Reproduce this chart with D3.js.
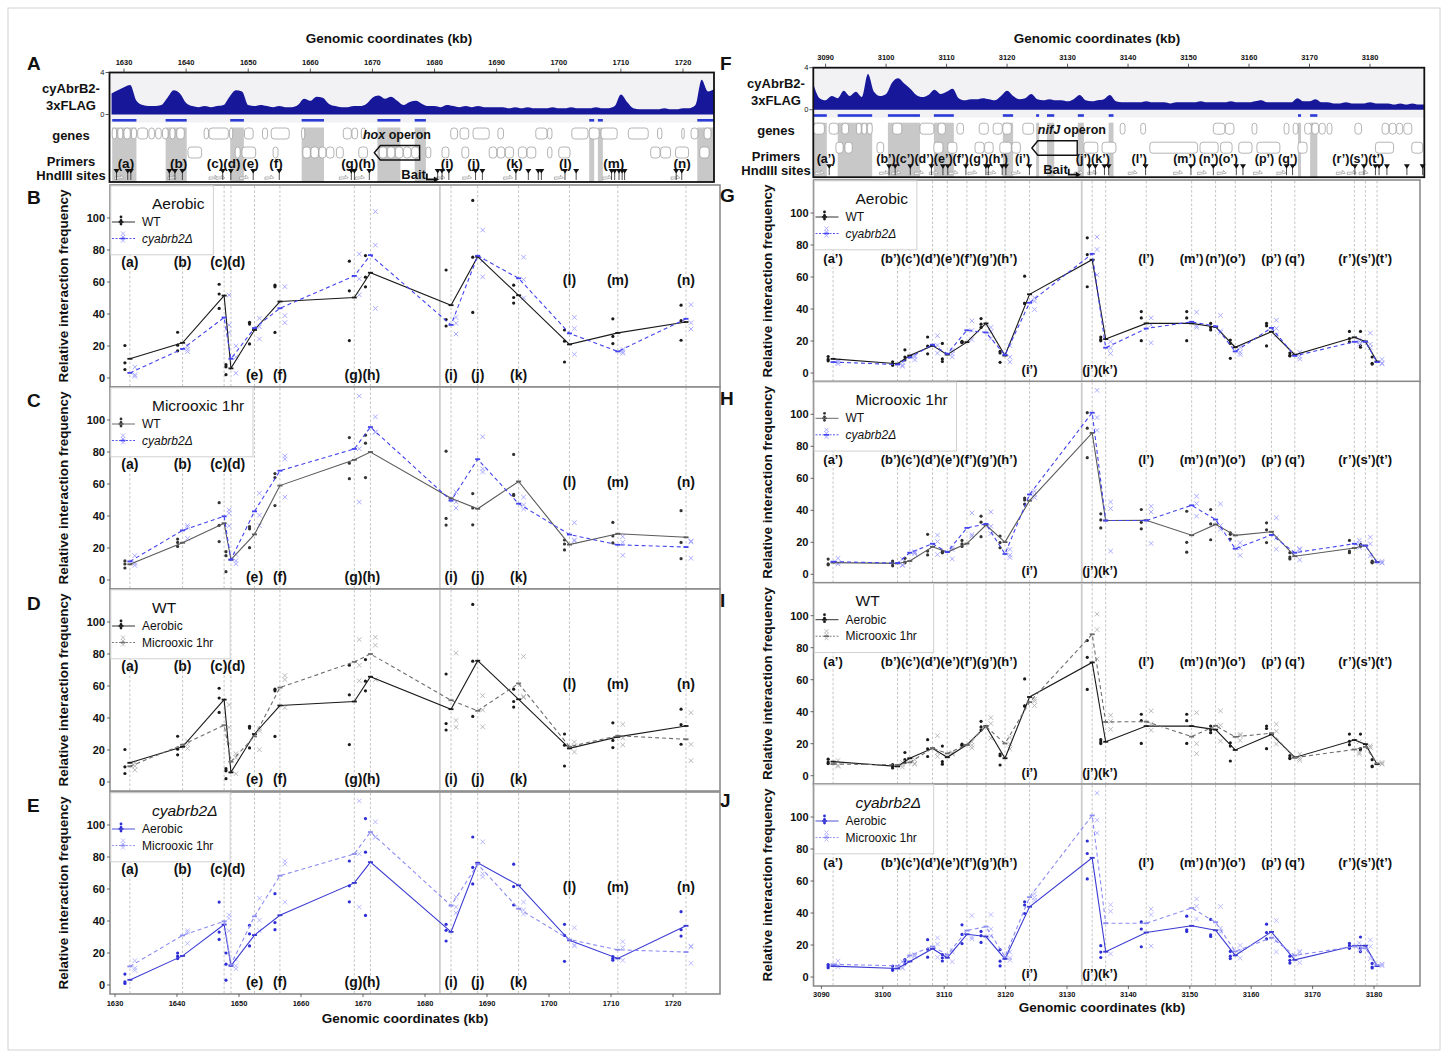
<!DOCTYPE html>
<html lang="en">
<head>
<meta charset="UTF-8">
<title>cyAbrB2 3C interaction profiles</title>
<script src="https://d3js.org/d3.v7.min.js"></script>
<style>
    body { margin: 0; background: #fff; }
    text { font-family: "Liberation Sans", Arial, sans-serif; fill: #111; }
</style>
</head>
<body>
<script>
// ---------------- data: hox region (left) ----------------
var primersL = ["a","b","c","d","e","f","g","h","i","j","k","l","m","n"];
var primerKbL = [1632.4,1640.9,1647.6,1648.7,1652.5,1656.6,1668.6,1671.2,1684.2,1688.5,1695.1,1703.3,1711.1,1722.1];
var baitKbL = 1682.4;
var ticksL = [1630,1640,1650,1660,1670,1680,1690,1700,1710,1720];

var wtAerL = [12,22,51.5,6,30,47.8,50.3,65.8,45.5,75.8,51.7,21,28.2,35];
var dAerL  = [3.2,18.2,37.8,12,31.2,43.6,63.8,76.8,33.2,76.4,62.3,27.9,16.6,37];
var wtMicL = [9.8,23.3,35.5,12.7,28.5,59,75.1,80,51.1,44.5,61.6,22.1,28.9,26.7];
var dMicL  = [11.6,31,39.8,12.7,42.9,68.3,81.9,95.6,49.6,75.5,47.7,28.4,22,20.6];

var wtAerRepL = [[20.3,9.5,5.3],[28.6,20.5,17],[58.6,52.5,43.5],[8.3,7,2.1],[34.8,33.7,21.3],[58,57,28.5],[73,54.5,23.4],[76.5,63,57],[67.5,36.5,32.5],[111,75.5,41],[58,50.3,46.8],[30,23,10],[37,26,21.5],[45.5,35.8,23.6]];
var dAerRepL  = [[6.8,2,1],[20,18,16.5],[51.8,33.1,28.5],[20,13,3],[37.3,32,24.4],[57.1,39,34.6],[77.5,62,52],[104,83,43.5],[37.9,34.2,27.5],[92.5,73.5,63.2],[75.5,61.5,50],[37.9,31,14.8],[17.8,16.5,15.5],[45.8,34.6,30.6]];
var wtMicRepL = [[11.9,10,7.5],[25.6,23.5,21],[48.3,34.2,24],[17.7,15.2,5.2],[33.3,32,20.2],[66.5,64,46.5],[89,73,63.3],[90.5,85.5,64],[80.5,38.5,34.3],[54,45,34.5],[78.5,53.5,52.8],[25,22.5,18.8],[36,27.5,23.2],[43.3,23.5,13.3]];
var dMicRepL  = [[15.2,10.5,9.1],[34,33,26],[43.8,41.7,33.9],[16,12,10.1],[54.2,40.5,34],[77.5,75.6,51.8],[115,82,48.7],[102,92.5,92.3],[55,48.8,45],[89.5,69.5,67.5],[51.8,46.9,44.4],[35.8,25,24.4],[27.1,23.5,15.4],[24.4,23.8,13.6]];

var signalStartL = 1628;
var signalL = [2.0,2.3,2.6,2.8,1.3,0.9,0.8,0.8,0.9,1.6, 2.3,2.0,1.1,0.8,0.7,0.8,0.7,0.8,0.9,1.7,
    2.3,2.2,0.9,0.8,0.9,0.8,0.7,0.8,0.7,0.7, 0.9,1.5,1.3,1.7,1.6,1.0,0.8,0.7,0.7,0.8,
    0.8,1.0,1.6,1.8,1.5,1.7,1.3,0.9,1.2,1.3, 1.0,0.8,0.8,0.7,0.9,0.8,0.7,0.8,0.7,0.8,
    0.7,0.7,0.7,0.7,0.6,0.7,0.6,0.7,0.6,0.6, 0.6,0.7,0.6,0.6,0.7,0.6,0.6,0.6,0.7,0.6,
    0.6,0.8,1.9,1.2,0.6,0.5,0.5,0.5,0.5,0.6, 0.5,0.5,0.6,0.6,0.9,3.3,2.2,2.4];
var peaksL = [[1628.1,1632],[1636.7,1640.1],[1647.1,1649.3],[1658.6,1662.2],[1670.8,1674.5],[1676.8,1678.6],[1704.9,1705.7],[1706.3,1707.1],[1722.3,1725.1]];
var genesL1 = [[1628.1,1628.8],[1629,1629.8],[1630,1631],[1631.2,1632],[1632.2,1633.8],[1634,1634.9],[1635.1,1636],[1636.2,1637.1],[1637.4,1638.2],[1638.5,1639.7],
    [1642.9,1643.6],[1643.7,1646.8],[1647,1647.5],[1649.4,1650.8],[1652.3,1653.1],[1653.7,1656.6],[1658.6,1659.1],[1665.3,1666.6],[1666.7,1667.6],[1668.2,1668.9],
    [1682.6,1683.7],[1684.1,1685.5],[1686.2,1688.8],[1690.2,1691.1],[1696.3,1698.1],[1698.2,1698.9],[1702.1,1704.7],[1704.9,1706.5],[1706.8,1709.4],[1711.2,1714.4],
    [1715.9,1716.6],[1719.8,1720.2],[1721.3,1722.4],[1723.4,1724.5]];
var genesL2 = [[1640.3,1642.5],[1647.9,1648.7],[1649,1651.2],[1654,1654.8],[1658.8,1660],[1660.1,1661.3],[1661.4,1662.5],[1662.6,1663.8],[1664.2,1665.3],[1667.8,1669.2],
    [1671.1,1672.3],[1672.4,1673.6],[1673.7,1674.9],[1675,1676.2],[1676.3,1677.5],[1678.6,1679.4],[1681.2,1682.3],[1684.4,1685.5],[1688.8,1690],[1690.1,1691.3],
    [1691.4,1692.7],[1693.5,1694.8],[1694.9,1696.3],[1698.2,1698.9],[1700,1701.8],[1714.8,1716.3],[1716.4,1718],[1718.8,1720.9],[1722.7,1724.2]];
var hindL = [1628.8,1630.6,1631.1,1637.3,1638.2,1639.4,1645.9,1647.2,1650.8,1655,1666.6,1667.1,1669.5,1680.5,1681.2,1682.3,1686.6,1687.7,
    1693.1,1695.1,1696.7,1697.2,1701,1702.8,1708.5,1709,1709.7,1710.2,1710.6,1718.9,1719.8];
var operonL = [1670.3,1677.6];

// ---------------- data: nifJ region (right) ----------------
var primersR = ["a’","b’","c’","d’","e’","f’","g’","h’","i’","j’","k’","l’","m’","n’","o’","p’","q’","r’","s’","t’"];
var primerKbR = [3091.9,3102.4,3104.4,3108.1,3110.5,3113.7,3116.8,3119.9,3123.9,3134.1,3136.3,3142.9,3150.3,3154.2,3157.4,3163.3,3167.1,3176.8,3178.6,3180.5];
var baitKbR = 3132.4;
var ticksR = [3090,3100,3110,3120,3130,3140,3150,3160,3170,3180];

var wtAerR = [8.8,5.8,10.9,17.1,11.5,19.3,31,10.9,49.2,70.8,21.2,31,31,28.8,16.1,25.8,11.4,22.3,19.7,7.2];
var dAerR  = [6.8,5.3,9.7,17.7,12,26.7,25.3,11.3,43.9,74.5,15.8,27.8,32,29.2,13.5,28.2,10.7,19.5,19.6,6.8];
var wtMicR = [7.3,6.8,8.3,17.2,13.9,19.2,30.8,20.1,46,88.4,33.6,33.8,24.4,31.2,24.3,26.6,11.3,16.4,18,7.7];
var dMicR  = [7.9,7,13.5,19.1,13.9,29,31.5,12.7,49.9,101,33.6,33.6,43.1,34.2,16,24.6,13.5,19.1,17.9,7.5];

var wtAerRepR = [[10.3,8.5,7.6],[7,5.6,4.8],[14.5,10,8.2],[22.5,16.8,12],[18.5,8.8,7.2],[19.8,19.2,18.9],[34,30.5,28.5],[13.5,12.5,6.7],[60.5,43.5,43.6],[84.5,74,53.9],
    [22.5,21,20.1],[38.4,34.4,20.2],[38.4,34.4,20.2],[31,28.5,26.9],[20.6,18.5,9.2],[31,29.5,16.9],[12.5,11,10.7],[26,21.5,19.4],[26,17,16.1],[10,6,5.6]];
var dAerRepR  = [[7.8,6.8,5.8],[6.8,4.9,4.2],[10.9,10,8.2],[23.3,17.4,12.4],[14,12,10],[32.6,26.6,20.9],[28.5,25.8,21.6],[17.1,9.9,6.9],[47,45,39.7],[85,77.2,61.3],
    [19.6,15.6,12.2],[34.5,30,18.9],[38,29.5,28.5],[36,26.3,25.3],[16,13,11.5],[33,27.8,23.8],[13,10.4,8.7],[21,19.6,17.9],[25,18,15.8],[8.5,6.2,5.7]];
var wtMicRepR = [[9.5,6.5,5.9],[8.3,6.8,5.3],[10,7.7,7.2],[25,14.5,12.1],[14.5,13.8,13.4],[21.2,19,17.4],[36.3,32.6,23.5],[23.9,19.8,16.6],[47.7,46.5,43.8],[101,91.3,72.9],
    [37.8,34,29],[40.5,32.5,28.4],[39.4,20,13.8],[40.5,31.5,21.6],[25.9,25,22],[32.2,27.8,19.8],[13.5,10.8,9.6],[21.2,14.5,13.5],[18.7,17.6,17.7],[8.3,7.6,7.2]];
var dMicRepR  = [[10,7.3,6.4],[9.5,6,5.5],[14.1,13.5,12.9],[24.5,20.5,12.3],[16.6,15.5,9.6],[38.4,24.8,23.8],[39,30,25.5],[15.6,12,10.5],[52,49.7,48],[115,98,90],
    [45.2,41.1,14.5],[42.5,39,19.3],[48.8,44.2,36.3],[44,30.5,28.1],[19.7,16.5,11.8],[35.3,22.8,15.7],[16,15.5,9],[21.2,19.3,16.8],[23.2,19,11.5],[8.1,7.3,7.1]];

var signalStartR = 3088;
var signalR = [2.4,1.1,0.9,1.3,1.1,1.8,1.3,1.7,1.2,3.4, 1.7,1.3,1.5,2.6,3.0,2.5,2.0,1.4,1.2,1.4,
    1.9,1.5,1.7,2.0,1.1,0.9,1.0,1.0,1.1,1.0, 0.9,1.3,1.8,1.3,1.0,1.1,1.5,1.0,0.9,1.0,
    0.9,0.9,0.8,1.0,1.4,0.9,0.8,0.9,1.0,1.4, 0.8,0.7,0.7,0.7,0.7,0.8,0.7,0.7,0.7,0.6,
    0.7,0.7,0.7,0.7,0.8,0.7,0.7,0.7,0.7,0.8, 0.7,0.7,0.7,0.8,0.9,0.7,0.7,0.7,0.7,0.7,
    1.1,0.8,0.8,1.0,0.7,0.7,0.6,0.6,0.7,0.6, 0.6,0.6,0.7,0.6,0.6,0.6,0.5,0.6,0.5,0.6,0.5,0.5];
var peaksR = [[3087.9,3090.2],[3092,3097.7],[3100.3,3105.6],[3107.9,3111.2],[3119.3,3121],[3124.8,3125.3],[3126.6,3127.8],[3131.7,3132.7],[3136.8,3137.6],[3168.1,3168.6],[3170.1,3171.3]];
var genesR1 = [[3088,3089.8],[3090.6,3092.1],[3092.7,3093.8],[3095.1,3095.9],[3096,3096.8],[3096.9,3097.7],[3101.1,3102.6],[3105.6,3107.9],[3108.6,3109.8],[3111.7,3112.8],
    [3115.4,3116.9],[3117.7,3119.2],[3119.3,3120.7],[3122.6,3124.4],[3138.7,3139.5],[3142.1,3142.9],[3154.1,3156],[3156.1,3157.5],[3160.5,3161.3],[3165.8,3166.6],
    [3167.3,3168.1],[3169.2,3170.3],[3170.4,3171.5],[3171.6,3172.6],[3172.9,3173.7],[3177.5,3178.6],[3182,3183.1],[3183.2,3184.3],[3184.4,3185.4],[3185.6,3186.9]];
var genesR2 = [[3091.7,3092.9],[3093.2,3094.4],[3098.5,3099.6],[3107.9,3109.4],[3110.2,3111.7],[3114.7,3116.2],[3116.3,3117.7],[3118.8,3120.7],[3120.8,3122.2],
    [3132.7,3135],[3135.7,3138],[3143.6,3151.5],[3151.9,3154.9],[3155.3,3157.2],[3158.3,3160.5],[3161.3,3165.1],[3168.1,3169.6],[3180.9,3183.9],[3186.9,3188.7]];
var hindR = [3090.6,3100.5,3101.5,3104,3107.5,3109.4,3110.2,3113.2,3116.5,3116.9,3119.2,3119.8,3123.7,3133.6,3134.6,3136.1,3136.8,3142.9,
    3150.4,3154.1,3157.9,3159,3166.2,3167.2,3177.5,3179,3180.9,3181.5,3182.8,3186.1,3188.7];
var operonR = [3124.1,3131.6];

// ---------------- layout ----------------
var W = 1448, H = 1057;
var svg = d3.select("body").append("svg").attr("width", W).attr("height", H);
svg.append("rect").attr("width", W).attr("height", H).attr("fill", "#fff");
svg.append("rect").attr("x", 8).attr("y", 8).attr("width", 1432).attr("height", 1042)
   .attr("fill", "none").attr("stroke", "#d2d2d2");

var meas = svg.append("text").attr("x", -500).attr("y", -500);
function textW(str, size, weight, style) {
    meas.text(str).attr("font-size", size).attr("font-weight", weight || "normal")
        .attr("font-style", style || "normal");
    return meas.node().getComputedTextLength();
}

var cols = [
  { primers: primersL, kb: primerKbL, bait: baitKbL, ticks: ticksL,
    cond: { wtAer: [wtAerL, wtAerRepL], dAer: [dAerL, dAerRepL], wtMic: [wtMicL, wtMicRepL], dMic: [dMicL, dMicRepL] },
    x: d3.scaleLinear().domain([1630, 1720]).range([115, 673]),
    px0: 110, px1: 720, tops: [185, 387, 589, 792], ph: 202,
    tx: d3.scaleLinear().domain([1630, 1720]).range([124, 683]),
    T: 72.5, bx0: 109.5, bx1: 714,
    sigStart: signalStartL, signal: signalL, peaks: peaksL, genes1: genesL1, genes2: genesL2,
    hind: hindL, operon: operonL, operonGene: "hox", operonAnchor: "middle",
    rows: ["t","t","t","t","b","b","b","b","b","b","b","m","m","m"], rowOff: { t: 77, m: 95, b: 190 },
    lblSize: 14, trkSize: 13.5, trkShift: -4,
    letters: ["A","B","C","D","E"], letterX: 27, letterY: [70, 204, 407, 610, 812],
    ylabX: 68, sideX: 71, titleTopX: 389, titleBotX: 405, titleBotY: 1023, axisBotY: 1003 },
  { primers: primersR, kb: primerKbR, bait: baitKbR, ticks: ticksR,
    cond: { wtAer: [wtAerR, wtAerRepR], dAer: [dAerR, dAerRepR], wtMic: [wtMicR, wtMicRepR], dMic: [dMicR, dMicRepR] },
    x: d3.scaleLinear().domain([3090, 3180]).range([821.4, 1374]),
    px0: 813.5, px1: 1420, tops: [180, 381.3, 582.7, 784], ph: 202,
    tx: d3.scaleLinear().domain([3090, 3180]).range([825.6, 1370]),
    T: 67.7, bx0: 813.3, bx1: 1424.3,
    sigStart: signalStartR, signal: signalR, peaks: peaksR, genes1: genesR1, genes2: genesR2,
    hind: hindR, operon: operonR, operonGene: "nifJ", operonAnchor: "start",
    rows: ["t","t","t","t","t","t","t","t","b","b","b","t","t","t","t","t","t","t","t","t"], rowOff: { t: 78, b: 189 },
    lblSize: 13, trkSize: 12.5, trkShift: -7,
    letters: ["F","G","H","I","J"], letterX: 720, letterY: [70, 202, 405, 607, 807],
    ylabX: 772, sideX: 776, titleTopX: 1097, titleBotX: 1102, titleBotY: 1012, axisBotY: 994 }
];

var BLACK = "#1a1a1a", BLUE = "#4343f0", LBLUE = "#a3a3ff";
var panelsCfg = [
  { title: "Aerobic", it: false, s: [
      { c: "wtAer", name: "WT", it: false, line: BLACK, dash: null, pt: BLACK, shape: "dot" },
      { c: "dAer", name: "cyabrb2Δ", it: true, line: BLUE, dash: "4,3", pt: LBLUE, shape: "cross" }] },
  { title: "Microoxic 1hr", it: false, s: [
      { c: "wtMic", name: "WT", it: false, line: "#5a5a5a", dash: null, pt: "#333", shape: "dot" },
      { c: "dMic", name: "cyabrb2Δ", it: true, line: BLUE, dash: "4,3", pt: LBLUE, shape: "cross" }] },
  { title: "WT", it: false, s: [
      { c: "wtAer", name: "Aerobic", it: false, line: BLACK, dash: null, pt: BLACK, shape: "dot" },
      { c: "wtMic", name: "Microoxic 1hr", it: false, line: "#6e6e6e", dash: "4,3", pt: "#b3b3b3", shape: "cross" }] },
  { title: "cyabrb2Δ", it: true, s: [
      { c: "dAer", name: "Aerobic", it: false, line: "#3a3ad2", dash: null, pt: "#2d2dd6", shape: "dot" },
      { c: "dMic", name: "Microoxic 1hr", it: false, line: "#8c8cf2", dash: "4,3", pt: "#b3b3ff", shape: "cross" }] }
];

// push overlapping labels apart (symmetric relaxation)
function spread(xs, ws) {
    var c = xs.slice();
    for (var it = 0; it < 300; it++) {
        var moved = false;
        for (var i = 1; i < c.length; i++) {
            var need = (ws[i - 1] + ws[i]) / 2, d = c[i] - c[i - 1];
            if (d < need - 0.05) { var o = (need - d) / 2; c[i - 1] -= o; c[i] += o; moved = true; }
        }
        if (!moved) break;
    }
    return c;
}

cols.forEach(function(col) {
    col.labelText = col.primers.map(function(p) { return "(" + p + ")"; });
    var lw = col.labelText.map(function(t) { return textW(t, col.lblSize, "bold"); });
    col.labelX = col.kb.map(function(k) { return col.x(k); });
    Object.keys(col.rowOff).forEach(function(r) {
        var idx = d3.range(col.kb.length).filter(function(i) { return col.rows[i] === r; });
        var c = spread(idx.map(function(i) { return col.x(col.kb[i]); }), idx.map(function(i) { return lw[i]; }));
        idx.forEach(function(i, j) { col.labelX[i] = c[j]; });
    });
    var tw = col.labelText.map(function(t) { return textW(t, col.trkSize, "bold"); });
    col.trackLabelX = spread(col.kb.map(function(k) { return col.x(k) + col.trkShift; }), tw);
});

// ---------------- tracks ----------------
function drawTrack(col, ci) {
    var T = col.T, x0 = col.bx0, x1 = col.bx1, tx = col.tx, B = T + 109.5;
    var g = svg.append("g");
    var clipId = "clip" + ci;
    g.append("clipPath").attr("id", clipId).append("rect")
     .attr("x", x0).attr("y", T).attr("width", x1 - x0).attr("height", B - T);
    var inner = g.append("g").attr("clip-path", "url(#" + clipId + ")");

    inner.append("rect").attr("x", x0).attr("y", T).attr("width", x1 - x0).attr("height", 50).attr("fill", "#f2f2f5");

    var sy = d3.scaleLinear().domain([0, 4]).range([T + 42, T]);
    var pts = col.signal.map(function(v, i) { return { k: col.sigStart + i, v: v }; });
    inner.append("path").datum(pts)
         .attr("d", d3.area().curve(d3.curveMonotoneX)
              .x(function(d) { return tx(d.k); }).y0(T + 42).y1(function(d) { return sy(d.v); }))
         .attr("fill", "#17179a");

    inner.selectAll(".peakbar").data(col.peaks).enter().append("rect")
         .attr("x", function(d) { return tx(d[0]); }).attr("width", function(d) { return tx(d[1]) - tx(d[0]); })
         .attr("y", T + 46.5).attr("height", 2.6).attr("fill", "#2b3bd6");
    inner.selectAll(".shade").data(col.peaks).enter().append("rect")
         .attr("x", function(d) { return tx(d[0]); }).attr("width", function(d) { return tx(d[1]) - tx(d[0]); })
         .attr("y", T + 55).attr("height", B - T - 55).attr("fill", "#c8c8c8");

    [[col.genes1, T + 55.5], [col.genes2, T + 74.5]].forEach(function(row) {
        inner.selectAll(null).data(row[0]).enter().append("rect")
             .attr("x", function(d) { return tx(d[0]); }).attr("width", function(d) { return tx(d[1]) - tx(d[0]); })
             .attr("y", row[1]).attr("height", 11).attr("rx", 3)
             .attr("fill", "#fff").attr("stroke", "#a2a2a2").attr("stroke-width", 0.8);
    });

    // operon arrow box
    var os = tx(col.operon[0]), oe = tx(col.operon[1]), ot = T + 73, ob = T + 87.5;
    g.append("path")
     .attr("d", "M" + os + "," + ((ot + ob) / 2) + "L" + (os + 6) + "," + ot + "L" + oe + "," + ot +
                "L" + oe + "," + ob + "L" + (os + 6) + "," + ob + "Z")
     .attr("fill", "none").attr("stroke", "#111").attr("stroke-width", 1.4);
    var opX = col.operonAnchor === "middle" ? (os + oe) / 2 : os + 6;
    var op = g.append("text").attr("x", opX).attr("y", T + 66.5).attr("text-anchor", col.operonAnchor)
              .attr("font-size", 12.5).attr("font-weight", "bold");
    op.append("tspan").attr("font-style", "italic").text(col.operonGene);
    op.append("tspan").text(" operon");

    // primers
    g.selectAll(".tl").data(col.labelText).enter().append("text")
     .attr("x", function(d, i) { return col.trackLabelX[i]; }).attr("y", T + 95)
     .attr("text-anchor", "middle").attr("font-size", col.trkSize).attr("font-weight", "bold")
     .text(function(d) { return d; });
    g.selectAll(".parrow").data(col.kb).enter().append("path")
     .attr("d", function(k) {
         var x = col.x(k) + col.trkShift - 2;
         return "M" + (x - 9) + "," + (T + 104.5) + "L" + (x - 3) + "," + (T + 104.5) + "L" + (x - 3) + "," + (T + 102.5) +
                "L" + x + "," + (T + 105.5) + "L" + (x - 9) + "," + (T + 107) + "Z";
     })
     .attr("fill", "#fff").attr("stroke", "#999").attr("stroke-width", 0.7);

    // HindIII sites
    g.selectAll(".hs").data(col.hind).enter().append("line")
     .attr("x1", function(d) { return tx(d); }).attr("x2", function(d) { return tx(d); })
     .attr("y1", T + 99).attr("y2", T + 107.5).attr("stroke", "#222").attr("stroke-width", 0.8);
    g.selectAll(".ht").data(col.hind).enter().append("path")
     .attr("d", function(d) { var x = tx(d); return "M" + (x - 3) + "," + (T + 96.5) + "L" + (x + 3) + "," + (T + 96.5) + "L" + x + "," + (T + 101) + "Z"; })
     .attr("fill", "#111");

    // bait
    var bx = col.x(col.bait) - 13, by = T + 106;
    g.append("text").attr("x", bx - 1).attr("y", by).attr("text-anchor", "end")
     .attr("font-size", 13).attr("font-weight", "bold").text("Bait");
    g.append("path").attr("d", "M" + bx + "," + (by - 5) + "L" + bx + "," + (by + 1) + "L" + (bx + 8) + "," + (by + 1))
     .attr("fill", "none").attr("stroke", "#111").attr("stroke-width", 1.8);
    g.append("path").attr("d", "M" + (bx + 7) + "," + (by - 2) + "L" + (bx + 12) + "," + (by + 1) + "L" + (bx + 7) + "," + (by + 4) + "Z")
     .attr("fill", "#111");

    g.append("rect").attr("x", x0).attr("y", T).attr("width", x1 - x0).attr("height", B - T)
     .attr("fill", "none").attr("stroke", "#111").attr("stroke-width", 1.8);

    // top axis
    g.selectAll(".tt").data(col.ticks).enter().append("line")
     .attr("x1", function(d) { return tx(d); }).attr("x2", function(d) { return tx(d); })
     .attr("y1", T - 4).attr("y2", T).attr("stroke", "#333").attr("stroke-width", 0.8);
    g.selectAll(".tlab").data(col.ticks).enter().append("text")
     .attr("x", function(d) { return tx(d); }).attr("y", T - 8).attr("text-anchor", "middle")
     .attr("font-size", 7.5).attr("font-weight", "bold").text(function(d) { return d; });
    [[4, T], [0, T + 42]].forEach(function(a) {
        g.append("line").attr("x1", x0 - 4).attr("x2", x0).attr("y1", a[1]).attr("y2", a[1]).attr("stroke", "#333").attr("stroke-width", 0.8);
        g.append("text").attr("x", x0 - 5).attr("y", a[1] + 2.5).attr("text-anchor", "end")
         .attr("font-size", 7.5).text(a[0]);
    });

    [["cyAbrB2-", T + 20.5], ["3xFLAG", T + 37], ["genes", T + 67.5], ["Primers", T + 93.5], ["HndIII sites", T + 107.5]].forEach(function(s) {
        g.append("text").attr("x", col.sideX).attr("y", s[1]).attr("text-anchor", "middle")
         .attr("font-size", 13).attr("font-weight", "bold").text(s[0]);
    });

    svg.append("text").attr("x", col.titleTopX).attr("y", 43).attr("text-anchor", "middle")
       .attr("font-size", 13.5).attr("font-weight", "bold").text("Genomic coordinates (kb)");
}

// ---------------- interaction panels ----------------
function drawPanel(col, pi, cfg) {
    var top = col.tops[pi], bot = top + col.ph, x = col.x;
    var y = d3.scaleLinear().domain([0, 100]).range([top + 193, top + 33]);
    var g = svg.append("g");

    g.append("rect").attr("x", col.px0).attr("y", top).attr("width", col.px1 - col.px0).attr("height", col.ph)
     .attr("fill", "#fff").attr("stroke", "#8c8c8c").attr("stroke-width", 1.6);

    g.selectAll(".guide").data(col.kb).enter().append("line")
     .attr("x1", function(d) { return x(d); }).attr("x2", function(d) { return x(d); })
     .attr("y1", top + 1).attr("y2", bot - 1)
     .attr("stroke", "#bdbdbd").attr("stroke-width", 0.9).attr("stroke-dasharray", "2.5,2");
    g.append("line").attr("x1", x(col.bait)).attr("x2", x(col.bait)).attr("y1", top + 1).attr("y2", bot - 1)
     .attr("stroke", "#cdcdcd").attr("stroke-width", 1.8);

    // legend
    var tW = textW(cfg.title, 15.5, "normal", cfg.it ? "italic" : "normal");
    var eW = d3.max(cfg.s, function(s) { return textW(s.name, 12, "normal", s.it ? "italic" : "normal"); });
    var lgW = Math.max(42 + tW + 8, 32 + eW + 16);
    var lg = g.append("g");
    lg.append("rect").attr("x", col.px0 + 0.8).attr("y", top + 0.8).attr("width", lgW).attr("height", 69)
      .attr("fill", "#fff").attr("stroke", "#d0d0d0").attr("stroke-width", 1);
    lg.append("text").attr("x", col.px0 + 42).attr("y", top + 23.5).attr("font-size", 15.5)
      .attr("font-style", cfg.it ? "italic" : "normal").text(cfg.title);
    cfg.s.forEach(function(s, si) {
        var yc = top + (si === 0 ? 37 : 53.5);
        lg.append("line").attr("x1", col.px0 + 2).attr("x2", col.px0 + 25).attr("y1", yc).attr("y2", yc)
          .attr("stroke", s.line).attr("stroke-width", 0.9).attr("stroke-dasharray", s.dash ? "2,1.5" : null);
        var kx = col.px0 + (si === 0 ? 11 : 13);
        [-5, -1.5, 2].forEach(function(o) {
            if (s.shape === "dot") lg.append("circle").attr("cx", kx).attr("cy", yc + o).attr("r", 1.4).attr("fill", s.pt);
            else lg.append("path").attr("transform", "translate(" + kx + "," + (yc + o) + ")")
                   .attr("d", "M-2,-2L2,2M-2,2L2,-2").attr("stroke", s.pt).attr("stroke-width", 0.9);
        });
        lg.append("line").attr("x1", kx - 2.5).attr("x2", kx + 2.5).attr("y1", yc).attr("y2", yc)
          .attr("stroke", s.line).attr("stroke-width", 1.6);
        lg.append("text").attr("x", col.px0 + 32).attr("y", yc + 4).attr("font-size", 12)
          .attr("font-style", s.it ? "italic" : "normal").attr("fill", "#222").text(s.name);
    });

    // primer labels
    g.selectAll(".pl").data(col.labelText).enter().append("text")
     .attr("x", function(d, i) { return col.labelX[i]; })
     .attr("y", function(d, i) { return top + col.rowOff[col.rows[i]] + 5; })
     .attr("text-anchor", "middle").attr("font-size", col.lblSize).attr("font-weight", "bold")
     .text(function(d) { return d; });

    // y axis
    var yt = [0, 20, 40, 60, 80, 100];
    g.selectAll(".yt").data(yt).enter().append("line")
     .attr("x1", col.px0 - 3).attr("x2", col.px0).attr("y1", function(d) { return y(d); }).attr("y2", function(d) { return y(d); })
     .attr("stroke", "#444").attr("stroke-width", 0.8);
    g.selectAll(".yl").data(yt).enter().append("text")
     .attr("x", col.px0 - 5).attr("y", function(d) { return y(d) + 4; }).attr("text-anchor", "end")
     .attr("font-size", 11).attr("font-weight", "bold").text(function(d) { return d; });
    g.append("text").attr("transform", "translate(" + col.ylabX + "," + (top + col.ph / 2) + ") rotate(-90)")
     .attr("text-anchor", "middle").attr("font-size", 13.5).attr("font-weight", "bold")
     .text("Relative interaction frequency");

    // series: replicates, mean line, mean marks
    cfg.s.forEach(function(s, si) {
        var means = col.cond[s.c][0], reps = col.cond[s.c][1];
        var dodge = si === 0 ? -0.8 : 0.8;
        var flat = [];
        reps.forEach(function(r, i) { r.forEach(function(v) { flat.push({ k: col.kb[i] + dodge, v: v }); }); });
        if (s.shape === "dot") {
            g.selectAll(null).data(flat).enter().append("circle")
             .attr("cx", function(d) { return x(d.k); }).attr("cy", function(d) { return y(d.v); })
             .attr("r", 1.6).attr("fill", s.pt);
        } else {
            g.selectAll(null).data(flat).enter().append("path")
             .attr("transform", function(d) { return "translate(" + x(d.k) + "," + y(d.v) + ")"; })
             .attr("d", "M-2.3,-2.3L2.3,2.3M-2.3,2.3L2.3,-2.3").attr("stroke", s.pt).attr("stroke-width", 0.9);
        }
    });
    cfg.s.forEach(function(s) {
        var means = col.cond[s.c][0];
        g.append("path").datum(means)
         .attr("d", d3.line().x(function(d, i) { return x(col.kb[i]); }).y(function(d) { return y(d); }))
         .attr("fill", "none").attr("stroke", s.line).attr("stroke-width", 1.1)
         .attr("stroke-dasharray", s.dash);
        g.selectAll(null).data(means).enter().append("line")
         .attr("x1", function(d, i) { return x(col.kb[i]) - 2.5; }).attr("x2", function(d, i) { return x(col.kb[i]) + 2.5; })
         .attr("y1", function(d) { return y(d); }).attr("y2", function(d) { return y(d); })
         .attr("stroke", s.line).attr("stroke-width", 1.8);
    });

    // bottom axis on last panel
    if (pi === 3) {
        g.selectAll(".xt").data(col.ticks).enter().append("line")
         .attr("x1", function(d) { return x(d); }).attr("x2", function(d) { return x(d); })
         .attr("y1", bot).attr("y2", bot + 3).attr("stroke", "#444").attr("stroke-width", 0.8);
        g.selectAll(".xl").data(col.ticks).enter().append("text")
         .attr("x", function(d) { return x(d); }).attr("y", col.axisBotY + 3).attr("text-anchor", "middle")
         .attr("font-size", 7.5).attr("font-weight", "bold").text(function(d) { return d; });
        svg.append("text").attr("x", col.titleBotX).attr("y", col.titleBotY).attr("text-anchor", "middle")
           .attr("font-size", 13.5).attr("font-weight", "bold").text("Genomic coordinates (kb)");
    }
}

cols.forEach(function(col, ci) {
    drawTrack(col, ci);
    panelsCfg.forEach(function(cfg, pi) { drawPanel(col, pi, cfg); });
    col.letters.forEach(function(L, i) {
        svg.append("text").attr("x", col.letterX).attr("y", col.letterY[i])
           .attr("font-size", 19).attr("font-weight", "bold").text(L);
    });
});
meas.remove();
</script>
</body>
</html>
